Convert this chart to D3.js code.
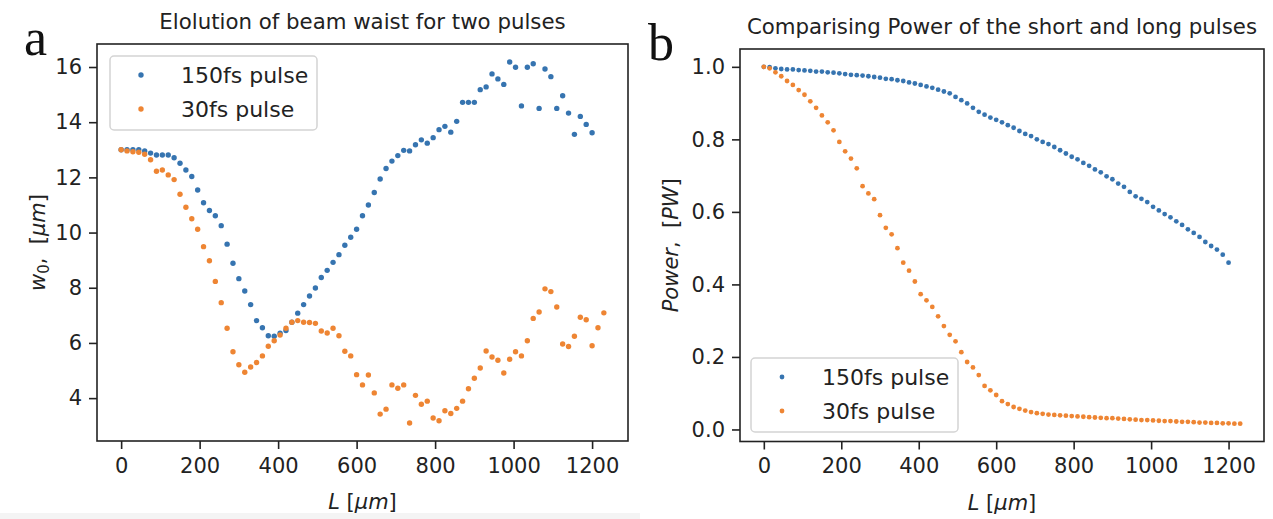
<!DOCTYPE html>
<html>
<head>
<meta charset="utf-8">
<script src="https://cdn.jsdelivr.net/npm/d3@7"></script>
<style>
  html, body { margin: 0; padding: 0; background: #fff; }
  svg { display: block; font-family: "DejaVu Sans", sans-serif; }
</style>
</head>
<body>
<div id="chart"></div>
<script>
// Propagation length L [um], shared grid for both panels
const lengthUm = [0, 15, 30, 45, 60, 75, 90, 105, 120, 135, 150, 165, 180, 195, 210, 225, 240, 255, 270, 285,
  300, 315, 330, 345, 360, 375, 390, 405, 420, 435, 450, 465, 480, 495, 510, 525, 540, 555, 570, 585,
  600, 615, 630, 645, 660, 675, 690, 705, 720, 735, 750, 765, 780, 795, 810, 825, 840, 855, 870, 885,
  900, 915, 930, 945, 960, 975, 990, 1005, 1020, 1035, 1050, 1065, 1080, 1095, 1110, 1125, 1140, 1155, 1170, 1185,
  1200, 1215, 1230];

// Panel a: beam waist w0 [um]
const waist150 = [13.0, 13.0, 13.0, 13.0, 12.96, 12.88, 12.81, 12.81, 12.81, 12.71, 12.51, 12.27, 12.03, 11.54, 11.08, 10.8, 10.61, 10.25, 9.58, 8.89,
  8.33, 7.88, 7.39, 6.81, 6.55, 6.26, 6.24, 6.35, 6.45, 6.75, 7.08, 7.39, 7.7, 7.99, 8.37, 8.63, 8.92, 9.2, 9.54, 9.83,
  10.12, 10.61, 11.0, 11.45, 11.94, 12.32, 12.59, 12.79, 12.98, 12.96, 13.18, 13.36, 13.24, 13.44, 13.73, 13.85, 13.64, 14.03, 14.72, 14.72,
  14.72, 15.18, 15.28, 15.75, 15.57, 15.37, 16.18, 15.99, 14.59, 15.99, 16.12, 14.5, 15.93, 15.65, 14.5, 14.96, 14.33, 13.56, 14.21, 13.92,
  13.62];
const waist30 = [13.0, 12.96, 12.93, 12.91, 12.84, 12.64, 12.22, 12.27, 12.09, 11.92, 11.39, 10.92, 10.5, 10.12, 9.49, 8.98, 8.23, 7.46, 6.53, 5.68,
  5.21, 4.94, 5.13, 5.29, 5.53, 5.88, 6.08, 6.29, 6.53, 6.75, 6.81, 6.75, 6.74, 6.71, 6.43, 6.36, 6.53, 6.26, 5.7, 5.53,
  4.85, 4.48, 4.84, 4.19, 3.42, 3.6, 4.48, 4.36, 4.48, 3.1, 4.1, 3.78, 3.89, 3.28, 3.18, 3.54, 3.44, 3.63, 3.89, 4.34,
  4.72, 5.09, 5.71, 5.49, 5.37, 4.91, 5.41, 5.68, 5.53, 6.08, 6.89, 7.12, 7.96, 7.86, 7.3, 5.96, 5.87, 6.24, 6.93, 6.84,
  5.9, 6.55, 7.09];

// Panel b: power [PW]
const power150 = [1.0, 0.999, 0.996, 0.994, 0.993, 0.993, 0.991, 0.99, 0.989, 0.987, 0.987, 0.985, 0.984, 0.982, 0.98, 0.978, 0.977, 0.976, 0.974, 0.972,
  0.97, 0.967, 0.966, 0.963, 0.961, 0.957, 0.954, 0.95, 0.946, 0.942, 0.937, 0.932, 0.927, 0.917, 0.908, 0.899, 0.887, 0.876, 0.868, 0.86,
  0.854, 0.847, 0.839, 0.832, 0.823, 0.815, 0.809, 0.8, 0.793, 0.787, 0.779, 0.77, 0.761, 0.752, 0.745, 0.735, 0.727, 0.717, 0.709, 0.698,
  0.69, 0.678, 0.669, 0.655, 0.643, 0.636, 0.627, 0.614, 0.604, 0.594, 0.585, 0.574, 0.564, 0.552, 0.542, 0.531, 0.517, 0.506, 0.496, 0.482,
  0.46];
const power30 = [1.0, 0.996, 0.985, 0.974, 0.961, 0.95, 0.936, 0.923, 0.905, 0.887, 0.866, 0.847, 0.825, 0.793, 0.767, 0.747, 0.72, 0.671, 0.651, 0.635,
  0.591, 0.556, 0.538, 0.5, 0.46, 0.438, 0.408, 0.373, 0.356, 0.338, 0.312, 0.285, 0.261, 0.243, 0.213, 0.186, 0.171, 0.15, 0.12, 0.108,
  0.095, 0.078, 0.07, 0.062, 0.057, 0.052, 0.048, 0.045, 0.043, 0.041, 0.04, 0.039, 0.038, 0.037, 0.036, 0.035, 0.034, 0.033, 0.032, 0.031,
  0.031, 0.03, 0.029, 0.028, 0.027, 0.026, 0.026, 0.025, 0.024, 0.023, 0.023, 0.022, 0.021, 0.021, 0.02, 0.019, 0.019, 0.018, 0.018, 0.017,
  0.017, 0.016, 0.016];

const seriesNames = ['150fs pulse', '30fs pulse'];
const xTicks = [0, 200, 400, 600, 800, 1000, 1200];
const waistTicks = [4, 6, 8, 10, 12, 14, 16];
const powerTicks = [0.0, 0.2, 0.4, 0.6, 0.8, 1.0];

const colors = ['#3674b0', '#ee8533'];
const ink = '#222';
const fontSize = 21;
const gap = '\u00a0\u00a0';

const svg = d3.select('#chart')
  .append('svg')
  .attr('width', 1273)
  .attr('height', 519);

// faint strip along the bottom of the left figure
svg.append('rect')
  .attr('x', 0).attr('y', 513).attr('width', 640).attr('height', 6)
  .attr('fill', '#f4f4f4');

// matplotlib-like 5% padding around the data
function padded(extent) {
  const pad = (extent[1] - extent[0]) * 0.05;
  return [extent[0] - pad, extent[1] + pad];
}

function drawPanel(opt) {
  const n = d3.max(opt.series, s => s.length);
  const x = d3.scaleLinear()
    .domain(padded(d3.extent(lengthUm.slice(0, n))))
    .range([opt.left, opt.right]);
  const y = d3.scaleLinear()
    .domain(padded(d3.extent(opt.series.flat())))
    .range([opt.bottom, opt.top]);

  const g = svg.append('g');

  // points
  opt.series.forEach((vals, si) => {
    g.append('g')
      .selectAll('circle')
      .data(vals)
      .join('circle')
      .attr('cx', (d, i) => x(lengthUm[i]))
      .attr('cy', d => y(d))
      .attr('r', opt.r)
      .attr('fill', colors[si]);
  });

  // axes
  const xAxis = d3.axisBottom(x).tickValues(xTicks).tickSize(8).tickPadding(9)
    .tickFormat(d3.format('d'));
  const yAxis = d3.axisLeft(y).tickValues(opt.yTicks).tickSize(8).tickPadding(7)
    .tickFormat(opt.yFormat);

  const gx = g.append('g')
    .attr('transform', `translate(0,${opt.bottom})`)
    .call(xAxis);
  const gy = g.append('g')
    .attr('transform', `translate(${opt.left},0)`)
    .call(yAxis);
  [gx, gy].forEach(ax => {
    ax.select('.domain').remove();
    ax.selectAll('line').attr('stroke', ink).attr('stroke-width', 1.6);
    ax.selectAll('text')
      .attr('fill', ink)
      .style('font-size', fontSize + 'px')
      .style('font-family', '"DejaVu Sans", sans-serif');
  });

  // frame
  g.append('rect')
    .attr('x', opt.left).attr('y', opt.top)
    .attr('width', opt.right - opt.left).attr('height', opt.bottom - opt.top)
    .attr('fill', 'none')
    .attr('stroke', ink)
    .attr('stroke-width', 1.6);

  // title
  svg.append('text')
    .attr('x', (opt.left + opt.right) / 2)
    .attr('y', opt.top - 15)
    .attr('text-anchor', 'middle')
    .attr('fill', ink)
    .style('font-size', '21.3px')
    .text(opt.title);

  // x label: L [um]
  const xl = svg.append('text')
    .attr('x', (opt.left + opt.right) / 2)
    .attr('y', opt.bottom + 68)
    .attr('text-anchor', 'middle')
    .attr('fill', ink)
    .style('font-size', fontSize + 'px');
  xl.append('tspan').style('font-style', 'italic').text('L');
  xl.append('tspan').text(' [');
  xl.append('tspan').style('font-style', 'italic').text('\u03bcm');
  xl.append('tspan').text(']');

  // y label
  const yl = svg.append('text')
    .attr('transform', `translate(${opt.yLabelX},${(opt.top + opt.bottom) / 2}) rotate(-90)`)
    .attr('text-anchor', 'middle')
    .attr('fill', ink)
    .style('font-size', fontSize + 'px');
  opt.yLabel(yl);

  // legend
  const lg = svg.append('g').attr('transform', `translate(${opt.legend[0]},${opt.legend[1]})`);
  lg.append('rect')
    .attr('width', 207).attr('height', 74)
    .attr('rx', 4)
    .attr('fill', '#fff')
    .attr('fill-opacity', 0.85)
    .attr('stroke', '#d4d4d4')
    .attr('stroke-width', 1.5);
  seriesNames.forEach((name, i) => {
    lg.append('circle')
      .attr('cx', 31).attr('cy', 19 + i * 34)
      .attr('r', opt.r)
      .attr('fill', colors[i]);
    lg.append('text')
      .attr('x', 71).attr('y', 19 + i * 34)
      .attr('dy', '0.36em')
      .attr('fill', ink)
      .style('font-size', '22px')
      .text(name);
  });

  // panel letter
  svg.append('text')
    .attr('x', opt.letter[0]).attr('y', opt.letter[1])
    .attr('fill', '#111')
    .style('font-family', '"Liberation Serif", "DejaVu Serif", serif')
    .style('font-size', '52px')
    .text(opt.letterText);
}

drawPanel({
  series: [waist150, waist30],
  left: 97, right: 628, top: 44, bottom: 441,
  r: 2.7,
  yTicks: waistTicks,
  yFormat: d3.format('d'),
  title: 'Elolution of beam waist for two pulses',
  yLabelX: 45,
  yLabel: t => {
    t.append('tspan').style('font-style', 'italic').text('w');
    t.append('tspan').attr('dy', 4).style('font-size', '15px').text('0');
    t.append('tspan').attr('dy', -4).text(',' + gap + '[');
    t.append('tspan').style('font-style', 'italic').text('\u03bcm');
    t.append('tspan').text(']');
  },
  legend: [110, 56],
  letter: [24, 55],
  letterText: 'a'
});

drawPanel({
  series: [power150, power30],
  left: 740, right: 1264, top: 49, bottom: 441.5,
  r: 2.4,
  yTicks: powerTicks,
  yFormat: d3.format('.1f'),
  title: 'Comparising Power of the short and long pulses',
  yLabelX: 678,
  yLabel: t => {
    t.append('tspan').style('font-style', 'italic').text('Power');
    t.append('tspan').text(',' + gap + '[');
    t.append('tspan').style('font-style', 'italic').text('PW');
    t.append('tspan').text(']');
  },
  legend: [751, 358],
  letter: [648, 60],
  letterText: 'b'
});
</script>
</body>
</html>
